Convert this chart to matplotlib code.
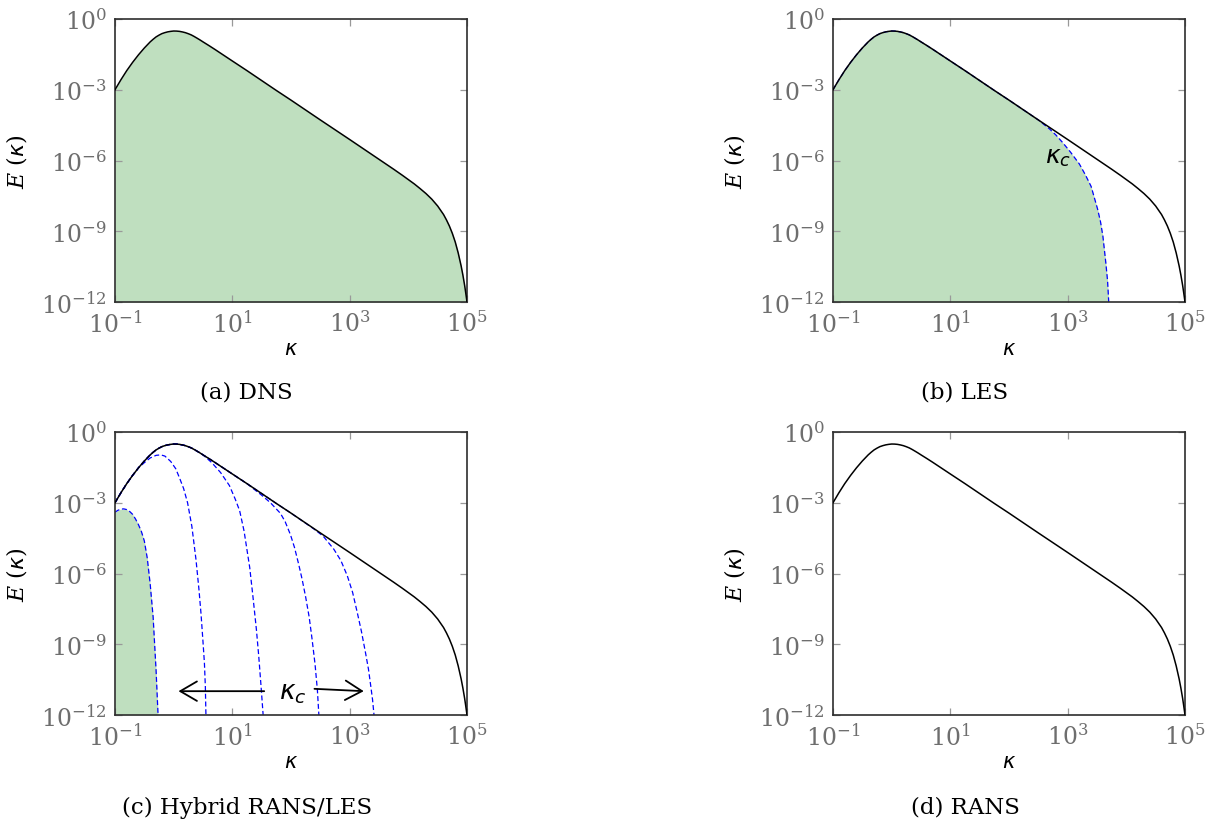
import numpy as np
import matplotlib
matplotlib.use("Agg")
import matplotlib.pyplot as plt
from matplotlib.ticker import NullLocator

plt.rcParams["font.family"] = "DejaVu Serif"
plt.rcParams["mathtext.fontset"] = "custom"
plt.rcParams["mathtext.rm"] = "DejaVu Serif"
plt.rcParams["mathtext.it"] = "DejaVu Serif:italic"
plt.rcParams["mathtext.sf"] = "DejaVu Sans:italic"

# full energy spectrum as log10(kappa), log10(E)
spec_logk = [-1.0, -0.9, -0.8, -0.7, -0.6, -0.5, -0.4, -0.35, -0.3, -0.25,
             -0.2, -0.15, -0.1, -0.05, 0.0, 0.05, 0.1, 0.15, 0.2, 0.25,
             0.3, 0.35, 0.4, 0.45, 0.5, 0.6, 0.7, 0.8, 0.9, 1.0,
             1.25, 1.5, 1.75, 2.0, 2.5, 3.0, 3.5, 3.75, 3.9, 4.0,
             4.1, 4.2, 4.3, 4.4, 4.5, 4.6, 4.65, 4.7, 4.75, 4.8,
             4.85, 4.9, 4.93, 4.96, 4.98, 5.0]
spec_loge = [-3.00, -2.58, -2.19, -1.84, -1.52, -1.23, -0.97, -0.86, -0.76, -0.685,
             -0.62, -0.578, -0.545, -0.524, -0.51, -0.513, -0.525, -0.549, -0.58, -0.624,
             -0.675, -0.742, -0.815, -0.89, -0.97, -1.125, -1.285, -1.45, -1.615, -1.78,
             -2.19, -2.61, -3.03, -3.44, -4.28, -5.11, -5.95, -6.37, -6.63, -6.81,
             -6.99, -7.19, -7.40, -7.64, -7.93, -8.29, -8.52, -8.78, -9.09, -9.46,
             -9.92, -10.47, -10.86, -11.30, -11.64, -12.0]

# LES filtered spectrum: follows the full one up to les_join, then these points
les_join = 2.5
les_logk = [2.69, 2.8, 2.915, 3.05, 3.2, 3.3, 3.4, 3.51, 3.56, 3.6, 3.65, 3.68, 3.70]
les_loge = [-4.66, -4.92, -5.24, -5.65, -6.15, -6.6, -7.1, -8.06, -8.6, -9.2,
            -10.33, -11.1, -12.0]

# hybrid RANS/LES filtered spectra (first one is shaded)
hyb_join = [-2.0, -0.6, 0.5, 1.25, 2.0]
hyb_logk = [
    [-1.0, -0.95, -0.9, -0.85, -0.8, -0.75, -0.7, -0.65, -0.6, -0.55, -0.5,
     -0.45, -0.4, -0.35, -0.3, -0.266],
    [-0.5, -0.4, -0.3, -0.222, -0.15, -0.05, 0.036, 0.1, 0.17, 0.237, 0.31,
     0.38, 0.43, 0.466, 0.5, 0.524, 0.54, 0.55],
    [0.65, 0.8, 0.95, 1.05, 1.125, 1.2, 1.296, 1.35, 1.41, 1.45, 1.49, 1.525],
    [1.5, 1.65, 1.82, 1.9, 1.99, 2.06, 2.13, 2.19, 2.25, 2.31, 2.36, 2.41,
     2.45, 2.475],
    [2.39, 2.55, 2.73, 2.85, 2.96, 3.05, 3.13, 3.2, 3.27, 3.32, 3.36, 3.39, 3.415],
]
hyb_loge = [
    [-3.40, -3.32, -3.27, -3.26, -3.29, -3.37, -3.49, -3.69, -3.93, -4.22, -4.62,
     -5.35, -6.45, -7.85, -10.1, -12.0],
    [-1.30, -1.10, -0.99, -0.97, -1.02, -1.25, -1.56, -1.95, -2.40, -3.0, -4.0,
     -5.4, -6.65, -7.7, -8.9, -9.79, -10.8, -12.0],
    [-1.30, -1.72, -2.27, -2.85, -3.34, -4.2, -5.74, -6.95, -8.37, -9.5, -10.8, -12.0],
    [-2.68, -3.00, -3.45, -3.80, -4.35, -4.90, -5.60, -6.25, -7.00, -7.85, -8.80,
     -9.85, -10.95, -12.0],
    [-4.11, -4.42, -4.97, -5.45, -6.10, -6.80, -7.66, -8.45, -9.36, -10.05, -10.78,
     -11.35, -12.0],
]

# annotation anchors (log10 kappa, log10 E)
les_label = (2.84, -5.84)
hyb_label = (2.036, -11.05)
hyb_arrow_left = ((1.543, -10.99), (0.082, -10.99))
hyb_arrow_right = ((2.40, -10.89), (3.24, -10.99))

captions = ["(a) DNS", "(b) LES", "(c) Hybrid RANS/LES", "(d) RANS"]

GREEN = "#bfdfbf"
KC = r"$\mathsf{\kappa}_{\mathsf{c}}$"


def joined(join, logk, loge):
    k = [x for x in spec_logk if x <= join] + list(logk)
    e = [y for x, y in zip(spec_logk, spec_loge) if x <= join] + list(loge)
    return 10.0 ** np.array(k), 10.0 ** np.array(e)


def style(ax):
    ax.set_xscale("log")
    ax.set_yscale("log")
    ax.set_xlim(1e-1, 1e5)
    ax.set_ylim(1e-12, 1e0)
    ax.set_xticks([1e-1, 1e1, 1e3, 1e5])
    ax.set_yticks([1e-12, 1e-9, 1e-6, 1e-3, 1e0])
    ax.xaxis.set_minor_locator(NullLocator())
    ax.yaxis.set_minor_locator(NullLocator())
    ax.tick_params(direction="in", top=True, right=True, length=5, width=0.9,
                   color="#999999", labelcolor="#6e6e6e", labelsize=17, pad=6)
    for s in ax.spines.values():
        s.set_color("#2e2e2e")
        s.set_linewidth(1.2)
    ax.set_xlabel(r"$\mathsf{\kappa}$", fontsize=15)
    ax.set_ylabel(r"$E\ (\mathsf{\kappa})$", fontsize=16)
    ax.xaxis.set_label_coords(0.5, -0.13)
    ax.yaxis.set_label_coords(-0.245, 0.5)


fig = plt.figure(figsize=(12.13, 8.28), dpi=100)
W, H = 1213.0, 828.0
boxes = [(115, 20), (833, 20), (115, 433), (833, 433)]
axes = []
for x0, y0 in boxes:
    ax = fig.add_axes([x0 / W, 1 - (y0 + 283) / H, 352 / W, 283 / H])
    style(ax)
    axes.append(ax)

k_full = 10.0 ** np.array(spec_logk)
e_full = 10.0 ** np.array(spec_loge)

# (a) DNS
ax = axes[0]
ax.fill_between(k_full, e_full, 1e-12, color=GREEN, lw=0, zorder=1)
ax.plot(k_full, e_full, color="black", lw=1.1, zorder=3)

# (b) LES
ax = axes[1]
k, e = joined(les_join, les_logk, les_loge)
ax.fill_between(k, e, 1e-12, color=GREEN, lw=0, zorder=1)
ax.plot(k, e, color="blue", lw=0.9, dashes=(4, 2.2), zorder=2)
ax.plot(k_full, e_full, color="black", lw=1.1, zorder=3)
ax.text(10 ** les_label[0], 10 ** les_label[1], KC, fontsize=18,
        ha="center", va="center", zorder=4)

# (c) Hybrid RANS/LES
ax = axes[2]
for i, (j, lk, le) in enumerate(zip(hyb_join, hyb_logk, hyb_loge)):
    k, e = joined(j, lk, le)
    if i == 0:
        ax.fill_between(k, e, 1e-12, color=GREEN, lw=0, zorder=1)
    ax.plot(k, e, color="blue", lw=0.9, dashes=(4, 2.2), zorder=2)
ax.plot(k_full, e_full, color="black", lw=1.1, zorder=3)
ax.text(10 ** hyb_label[0], 10 ** hyb_label[1], KC, fontsize=19,
        ha="center", va="center", zorder=4)
for tail, head in (hyb_arrow_left, hyb_arrow_right):
    ax.annotate("", xy=(10 ** head[0], 10 ** head[1]),
                xytext=(10 ** tail[0], 10 ** tail[1]),
                arrowprops=dict(arrowstyle="->,head_length=0.6,head_width=0.35",
                                lw=1.3, color="black", mutation_scale=20,
                                shrinkA=0, shrinkB=0))

# (d) RANS
ax = axes[3]
ax.plot(k_full, e_full, color="black", lw=1.1, zorder=3)

for (x0, y0), cap in zip([(246, 393), (965, 393), (247, 808), (965, 808)], captions):
    fig.text(x0 / W, 1 - y0 / H, cap, ha="center", va="center", fontsize=16.5)

fig.savefig("out.png", dpi=100)
